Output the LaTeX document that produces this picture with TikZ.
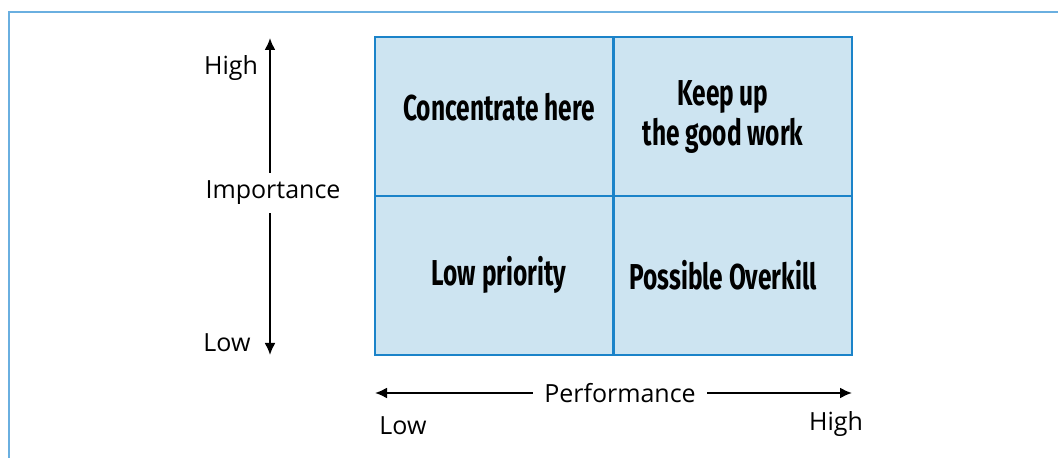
\documentclass[tikz,border=0pt]{standalone}
\usepackage{fontspec}
\setmainfont{Open Sans}
\newfontfamily\cellfont[FakeStretch=0.68]{Fira Sans}
\usetikzlibrary{arrows.meta,positioning}
\definecolor{cellfill}{HTML}{CDE4F1}
\definecolor{cellline}{HTML}{1B83C9}
\definecolor{frameblue}{HTML}{6AAFE0}
\tikzset{
  cell/.style={draw=cellline, fill=cellfill, line width=1pt, minimum width=119pt, minimum height=79.5pt, inner sep=0pt},
  celltext/.style={font=\cellfont\bfseries\fontsize{18}{20}\selectfont, align=center, inner sep=0pt},
  axtext/.style={font=\fontsize{12.5}{15}\selectfont, inner sep=0pt},
  axis/.style={line width=1pt, -{Latex[length=6pt,width=5.5pt]}}
}
\begin{document}
\begin{tikzpicture}[x=0.5pt,y=0.5pt]
      \useasboundingbox (0,0) rectangle (1058,458);
      \draw[frameblue, line width=0.7pt] (9,-20) rectangle (1080,446);
      \node[cell] (conc) at (494,341.5) {};
      \node[cell] (keep) at (732.5,341.5) {};
      \node[cell] (lowp) at (494,182.5) {};
      \node[cell] (over) at (732.5,182.5) {};
      \node[celltext] (conct) at (499,351) {Concentrate here};
      \node[celltext] (keept) at (723,341) {Keep up\\the good work};
      \node[celltext] (lowpt) at (499,183) {Low priority};
      \node[celltext] (overt) at (723,183) {Possible Overkill};
      \node[axtext] (imp) at (273,265) {Importance};
      \coordinate (imptop) at (270,420);
      \coordinate (impbot) at (270,103);
      \draw[axis] (imp.north -| imptop) ++(0,8) -- (imptop);
      \draw[axis] (imp.south -| impbot) ++(0,-8) -- (impbot);
      \node[axtext] (imphigh) at (231,390) {High};
      \node[axtext] (implow) at (227,115) {Low};
      \node[axtext] (perf) at (620,65) {Performance};
      \coordinate (perfleft) at (375,65);
      \coordinate (perfright) at (852,65);
      \draw[axis] (perf.west) ++(-11,0) -- (perfleft);
      \draw[axis] (perf.east) ++(11,0) -- (perfright);
      \node[axtext] (perflow) at (403,32) {Low};
      \node[axtext] (perfhigh) at (836,34) {High};
\end{tikzpicture}
\end{document}
